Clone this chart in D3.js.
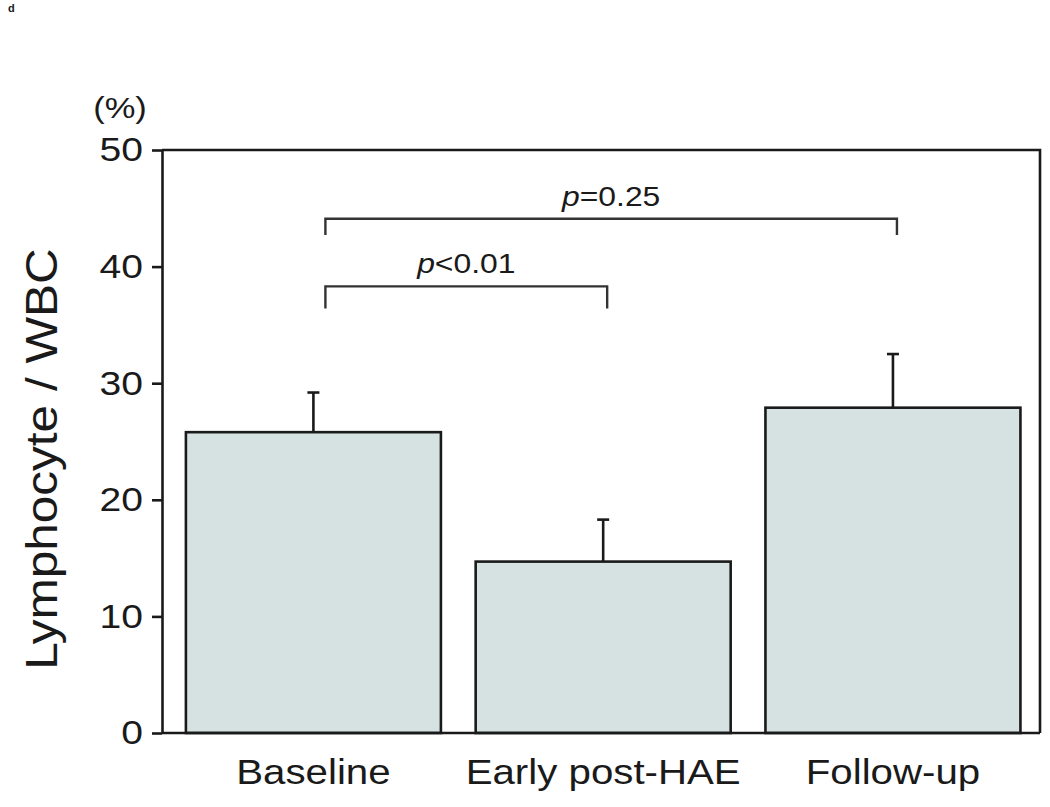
<!DOCTYPE html>
<html>
<head>
<meta charset="utf-8">
<script src="https://cdn.jsdelivr.net/npm/d3@7"></script>
<style>
  html, body { margin: 0; padding: 0; background: #fff; }
  svg { display: block; }
  text { font-family: "Liberation Sans", Arial, sans-serif; fill: #1a1a1a; }
</style>
</head>
<body>
<script>
// ---- data ----
const categories = ["Baseline", "Early post-HAE", "Follow-up"];
const means = [25.8, 14.7, 27.9];
const errors = [3.4, 3.6, 4.6];
const yTicks = [0, 10, 20, 30, 40, 50];
const brackets = [
  { from: 0, to: 1, y: 38.3, drop: 1.9, label: "<0.01" },
  { from: 0, to: 2, y: 44.1, drop: 1.4, label: "=0.25" }
];

const W = 1050, H = 807;
const svg = d3.select("body").append("svg").attr("width", W).attr("height", H);

const pLeft = 162, pRight = 1040, pTop = 150, pBottom = 733;
const x = d3.scaleBand().domain(categories).range([pLeft, pRight])
  .paddingInner(0.12).paddingOuter(0.075).align(0.55);
const y = d3.scaleLinear().domain([0, 50]).range([pBottom, pTop]);

const ink = "#1a1a1a";
const sw = 2.6;
const sx = 1.15; // horizontal stretch of the lettering

// panel letter
svg.append("text").attr("x", 8).attr("y", 12).attr("font-size", 11)
  .attr("font-weight", "bold").text("d");

// bars
svg.append("g").selectAll("rect").data(categories).join("rect")
  .attr("x", d => x(d)).attr("width", x.bandwidth())
  .attr("y", (d, i) => y(means[i]))
  .attr("height", (d, i) => y(0) - y(means[i]))
  .attr("fill", "#d6e2e2").attr("stroke", ink).attr("stroke-width", sw);

// error bars (upper only)
const eb = svg.append("g").attr("stroke", ink).attr("stroke-width", sw).attr("fill", "none");
categories.forEach((c, i) => {
  const cx = x(c) + x.bandwidth() / 2;
  eb.append("line").attr("x1", cx).attr("x2", cx)
    .attr("y1", y(means[i])).attr("y2", y(means[i] + errors[i]));
  eb.append("line").attr("x1", cx - 6).attr("x2", cx + 6)
    .attr("y1", y(means[i] + errors[i])).attr("y2", y(means[i] + errors[i]));
});

// frame (top and right)
svg.append("path")
  .attr("d", `M${pLeft},${pTop}H${pRight}V${pBottom}`)
  .attr("fill", "none").attr("stroke", ink).attr("stroke-width", sw);

// bottom axis line
svg.append("line").attr("x1", pLeft).attr("x2", pRight).attr("y1", pBottom).attr("y2", pBottom)
  .attr("stroke", ink).attr("stroke-width", sw);

// y axis
const yAxis = d3.axisLeft(y).tickValues(yTicks).tickSize(10).tickPadding(8).tickSizeOuter(0);
const gy = svg.append("g").attr("transform", `translate(${pLeft},0)`).call(yAxis);
gy.select(".domain").attr("stroke", ink).attr("stroke-width", sw);
gy.selectAll(".tick line").attr("stroke", ink).attr("stroke-width", sw);
gy.selectAll(".tick text").attr("font-size", 34).attr("fill", ink)
  .attr("x", 0).attr("transform", `translate(-19,0) scale(${sx},1)`)
  .style("font-family", "'Liberation Sans', Arial, sans-serif");

// x axis labels
const xAxis = d3.axisBottom(x).tickSize(0).tickPadding(26);
const gx = svg.append("g").attr("transform", `translate(0,${pBottom})`).call(xAxis);
gx.select(".domain").remove();
gx.selectAll(".tick text").attr("font-size", 35).attr("fill", ink)
  .attr("transform", `scale(${sx},1)`)
  .style("font-family", "'Liberation Sans', Arial, sans-serif");

// (%) unit
svg.append("text").attr("transform", `translate(120,118) scale(${sx},1)`)
  .attr("text-anchor", "middle").attr("font-size", 30).text("(%)");

// y label
svg.append("text").attr("transform", `translate(57,459) rotate(-90) scale(1.1,1)`)
  .attr("text-anchor", "middle").attr("font-size", 45).text("Lymphocyte / WBC");

// brackets
const bg = svg.append("g");
brackets.forEach(b => {
  const x1 = x(categories[b.from]) + x.bandwidth() / 2 + 12;
  const x2 = x(categories[b.to]) + x.bandwidth() / 2 + 4;
  bg.append("path")
    .attr("d", `M${x1},${y(b.y - b.drop)}V${y(b.y)}H${x2}V${y(b.y - b.drop)}`)
    .attr("fill", "none").attr("stroke", "#333").attr("stroke-width", 2.4);
  const t = bg.append("text")
    .attr("transform", `translate(${(x1 + x2) / 2},${y(b.y) - 13}) scale(1.18,1)`)
    .attr("text-anchor", "middle").attr("font-size", 27);
  t.append("tspan").attr("font-style", "italic").text("p");
  t.append("tspan").text(b.label);
});
</script>
</body>
</html>
